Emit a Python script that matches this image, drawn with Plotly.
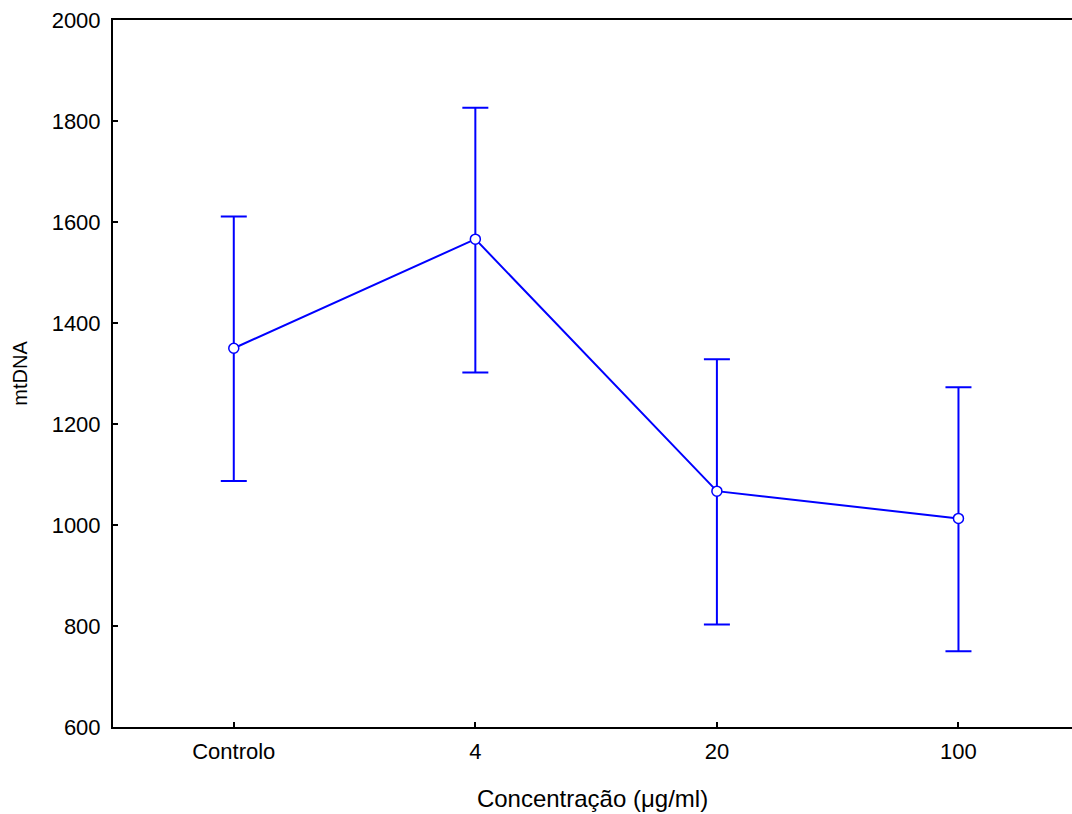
import plotly.graph_objects as go

# data
categories = ["Controlo", "4", "20", "100"]
means = [1350, 1566, 1067, 1013]
upper = [1611, 1826, 1328, 1273]
lower = [1087, 1302, 803, 750]

err_plus = [u - m for u, m in zip(upper, means)]
err_minus = [m - l for m, l in zip(means, lower)]

blue = "#0000ff"
family = "Liberation Sans, Arial, sans-serif"
tick_font = dict(family=family, size=22, color="black")

fig = go.Figure()
fig.add_trace(go.Scatter(
    x=list(range(len(categories))),
    y=means,
    mode="lines+markers",
    line=dict(color=blue, width=2),
    marker=dict(symbol="circle", size=10, color="white",
                line=dict(color=blue, width=1.5)),
    error_y=dict(type="data", symmetric=False, array=err_plus,
                 arrayminus=err_minus, color=blue, thickness=2, width=13),
    showlegend=False,
))

fig.update_layout(
    width=1072, height=814,
    margin=dict(l=113, r=0, t=20, b=87),
    paper_bgcolor="white", plot_bgcolor="white",
    font=dict(family=family, size=20, color="black"),
    xaxis=dict(
        range=[-0.5, 3.47],
        tickmode="array",
        tickvals=list(range(len(categories))),
        ticktext=categories,
        tickfont=tick_font,
        ticklabelstandoff=4,
        showgrid=False, zeroline=False,
        showline=True, linecolor="black", linewidth=2, mirror=True,
        ticks="inside", ticklen=5, tickwidth=2, tickcolor="black",
        title=dict(text="Concentração (μg/ml)", standoff=27,
                   font=dict(family=family, size=24, color="black")),
    ),
    yaxis=dict(
        range=[600, 2000],
        tickvals=[600, 800, 1000, 1200, 1400, 1600, 1800, 2000],
        tickfont=tick_font,
        ticklabelstandoff=6,
        showgrid=False, zeroline=False,
        showline=True, linecolor="black", linewidth=2,
        ticks="inside", ticklen=5, tickwidth=2, tickcolor="black",
        title=dict(text="mtDNA", standoff=19,
                   font=dict(family=family, size=20, color="black")),
    ),
)

# drop the page margin so the figure sits at 0,0 without a scrollbar
fig.write_html(
    "out.html",
    config={"displayModeBar": False},
    post_script="document.body.style.margin='0';document.body.style.overflow='hidden';",
)
